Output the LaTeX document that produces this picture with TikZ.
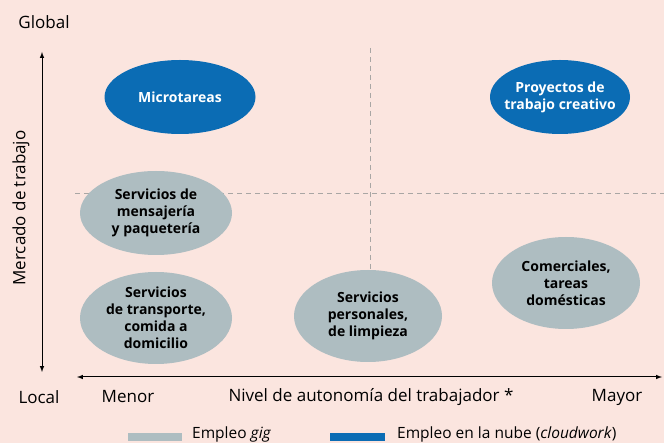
\documentclass[tikz,border=0pt]{standalone}
\usepackage{fontspec}
\setmainfont{Open Sans}
\usetikzlibrary{arrows,positioning,shapes.geometric}
\definecolor{fondo}{HTML}{FBE5DF}
\definecolor{gris}{HTML}{AEBDC1}
\definecolor{azul}{HTML}{0B6CB4}
\definecolor{raya}{HTML}{A9A6A4}
\begin{document}
\begin{tikzpicture}[x=1pt, y=-1pt, >=latex]
\tikzstyle{blank}=[inner sep=0pt, font=\fontsize{17}{20}\selectfont]
\tikzstyle{oval}=[ellipse, inner sep=-12pt, align=center, font=\bfseries\fontsize{14}{17}\selectfont]
\tikzstyle{gig}=[oval, fill=gris, text=black]
\tikzstyle{nube}=[oval, fill=azul, text=white]
\tikzstyle{axis}=[line width=1pt]
\tikzstyle{split}=[raya, dashed, line width=0.8pt, dash pattern=on 5pt off 4pt]

\fill[fondo] (0,0) rectangle (664,443);
\useasboundingbox (0,0) rectangle (664,443);

% cuadrantes
\draw[split] (370,48) -- (370,270);
\draw[split] (75,193) -- (664,193);

% ejes
\node[blank] (global) at (44,22) {Global};
\node[blank] (local) at (39,397) {Local};
\coordinate (ytop) at (42,52);
\coordinate (ybot) at (42,372);
\draw[axis, <->] (ytop) -- (ybot);
\node[blank, rotate=90] (mercado) at (21,208) {Mercado de trabajo};

\coordinate (xleft) at (77,377);
\coordinate (xright) at (662,377);
\draw[axis, <->] (xleft) -- (xright);
\node[blank] (menor) at (128,397) {Menor};
\node[blank] (nivel) at (371,397) {Nivel de autonomía del trabajador *};
\node[blank] (mayor) at (617,397) {Mayor};

% empleos
\node[nube, minimum width=151pt, minimum height=74pt] (micro) at (180,97) {Microtareas};
\node[nube, minimum width=140pt, minimum height=74pt] (proyectos) at (560,97) {Proyectos de\\trabajo creativo};
\node[gig, minimum width=152pt, minimum height=84pt] (mensajeria) at (156,213) {Servicios de\\mensajería\\y paquetería};
\node[gig, minimum width=152pt, minimum height=92pt] (transporte) at (156,318) {Servicios\\de transporte,\\comida a\\domicilio};
\node[gig, minimum width=148pt, minimum height=92pt] (personales) at (368,316) {Servicios\\personales,\\de limpieza};
\node[gig, minimum width=148pt, minimum height=92pt] (comerciales) at (566,283) {Comerciales,\\tareas\\domésticas};

% leyenda
\tikzstyle{legend}=[inner sep=0pt, anchor=base west, font=\fontsize{15.5}{18}\selectfont]
\fill[gris] (128,433) rectangle (182,441);
\node[legend] (leggig) at (192,438.5) {Empleo \textit{gig}};
\fill[azul] (330,433) rectangle (385,441);
\node[legend] (legnube) at (397,438.5) {Empleo en la nube (\textit{cloudwork})};
\end{tikzpicture}
\end{document}
